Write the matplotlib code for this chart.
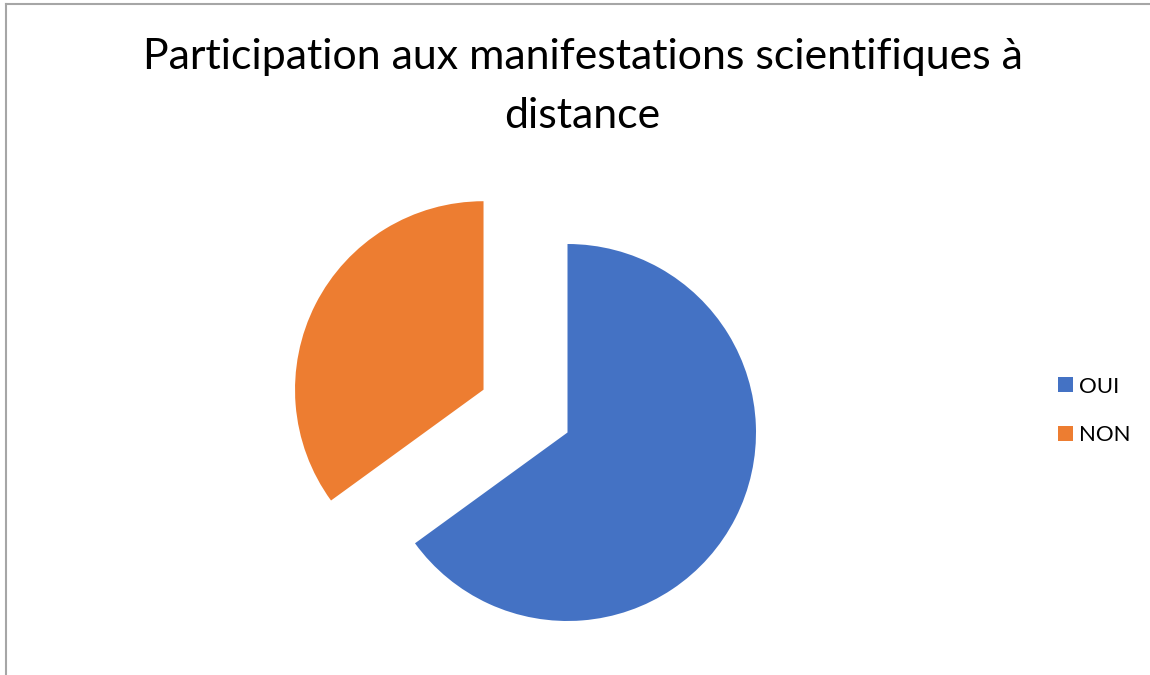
import matplotlib
matplotlib.use("Agg")
import matplotlib.pyplot as plt
from matplotlib.lines import Line2D
from matplotlib.patches import Patch

plt.rcParams['font.family'] = ['Lato', 'DejaVu Sans']

# Data
categories = ["OUI", "NON"]
values = [65, 35]
colors = ["#4472C4", "#ED7D31"]
explode = [0.0, 0.5]
title_lines = ["Participation aux manifestations scientifiques à", "distance"]

W, H = 1150, 675
fig = plt.figure(figsize=(W / 100, H / 100), dpi=100)
ax = fig.add_axes([0, 0, 1, 1])

wedges, _ = ax.pie(values, colors=colors, explode=explode, startangle=90,
                   counterclock=False, radius=1.0,
                   wedgeprops=dict(linewidth=0))

# place pie: centre at image pixel (567.5, 432.5), radius 188.5 px
R = 188.5
cx = 567.5
cy = H - 432.5
ax.set_aspect('auto')
ax.set_xlim(-cx / R, (W - cx) / R)
ax.set_ylim(-cy / R, (H - cy) / R)
ax.axis('off')

# title: fit first line to ~883 px wide
renderer = fig.canvas.get_renderer()
probe = fig.text(0, 0, title_lines[0], fontsize=30)
w = probe.get_window_extent(renderer).width
probe.remove()
fs = 30 * 883 / w
fig.text(582.5 / W, 1 - 38 / H, "\n".join(title_lines), ha='center', va='top',
         fontsize=fs, color='black', linespacing=1.67)

# legend
handles = [Patch(facecolor=c, edgecolor='none') for c in colors]
leg = fig.legend(handles, categories, loc='center left',
                 bbox_to_anchor=(1058 / W, 1 - 411 / H), frameon=False,
                 fontsize=16, handlelength=0.68, handleheight=0.68,
                 handletextpad=0.27, labelspacing=1.3, borderpad=0,
                 borderaxespad=0)

# frame lines (top and left border)
fig.add_artist(Line2D([5.5 / W, 1], [1 - 4 / H, 1 - 4 / H], transform=fig.transFigure,
                      color='#A6A6A6', linewidth=1.5))
fig.add_artist(Line2D([5.5 / W, 5.5 / W], [0, 1 - 4 / H], transform=fig.transFigure,
                      color='#A6A6A6', linewidth=1.5))

fig.savefig("out.png", dpi=100, facecolor='white')
